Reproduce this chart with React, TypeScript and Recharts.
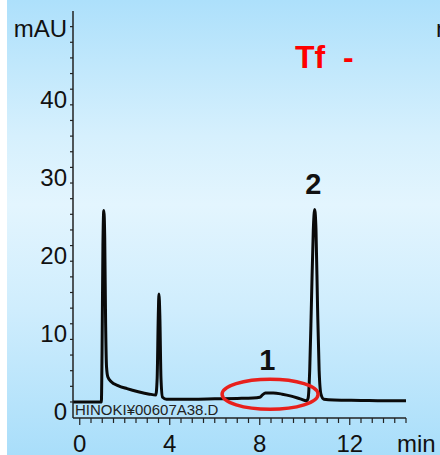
import React from "react";
import { LineChart, Line, XAxis, YAxis, ReferenceDot } from "recharts";

// retention time (min) and absorbance (mAU)
const times = [
  -0.3, 0.96, 0.99, 1.03, 1.07, 1.11, 1.15, 1.19, 1.25, 1.4, 1.7, 2.1, 2.6, 3.1, 3.38,
  3.44, 3.49, 3.52, 3.56, 3.61, 3.68, 3.85, 5.0, 6.0, 7.0, 7.7, 8.0, 8.12, 8.25, 8.6,
  9.0, 9.4, 9.8, 10.08, 10.15, 10.22, 10.3, 10.38, 10.44, 10.5, 10.57, 10.64, 10.72,
  10.85, 11.3, 12.5, 13.5, 14.5,
];
const absorbance = [
  0, 0, 6, 20, 24.5, 21, 10, 4.5, 3.2, 2.6, 2.1, 1.7, 1.3, 1.0, 0.9,
  3, 11, 13.8, 11, 3, 0.6, 0.35, 0.35, 0.4, 0.45, 0.5, 0.6, 0.9, 1.15, 1.15,
  1.0, 0.75, 0.4, 0.15, 0.5, 4, 13, 22, 24.6, 22, 12, 4, 1,
  0.35, 0.25, 0.2, 0.15, 0.15,
];

const xTicks = [
  0, 0.5, 1, 1.5, 2, 2.5, 3, 3.5, 4, 4.5, 5, 5.5, 6, 6.5, 7, 7.5, 8, 8.5, 9, 9.5,
  10, 10.5, 11, 11.5, 12, 12.5, 13, 13.5, 14, 14.5,
];
const xLabels = [0, 4, 8, 12];
const yTicks = [0, 2, 4, 6, 8, 10, 12, 14, 16, 18, 20, 22, 24, 26, 28, 30, 32, 34, 36, 38, 40, 42, 44, 46, 48];
const yLabels = [0, 10, 20, 30, 40];

const peakLabels = [
  { name: "1", t: 8.34, v: 4.03 },
  { name: "2", t: 10.38, v: 26.56 },
];

const data = times.map((t, i) => ({ t, v: absorbance[i] }));

const FONT = "'Liberation Sans', Arial, sans-serif";

function XTick(props: any) {
  const { x, y, payload } = props;
  const major = xLabels.includes(payload.value);
  return (
    <g>
      <line x1={x} x2={x} y1={y} y2={y + (major ? 7 : 5)} stroke="#222" strokeWidth={1.2} />
      {major && (
        <text x={x} y={y + 33.5} textAnchor="middle" fontSize={24} fontFamily={FONT} fill="#111">
          {payload.value}
        </text>
      )}
    </g>
  );
}

function YTick(props: any) {
  const { x, y, payload } = props;
  const major = yLabels.includes(payload.value);
  return (
    <g>
      <line x1={x - 3} x2={x} y1={y} y2={y} stroke="#222" strokeWidth={1.2} />
      {major && (
        <text x={x - 6} y={y + 18.5} textAnchor="end" fontSize={24} fontFamily={FONT} fill="#111">
          {payload.value}
        </text>
      )}
    </g>
  );
}

export default function App() {
  return (
    <div style={{ position: "absolute", left: 0, top: 0, width: 440, height: 455, background: "#fff" }}>
      <div
        style={{
          position: "absolute",
          left: 7,
          top: 0,
          width: 433,
          height: 455,
          background: "linear-gradient(to bottom, #ade0fb 0%, #d6f0fd 30%, #e3f5fe 45%, #cfedfd 68%, #a9defa 100%)",
        }}
      />
      <div style={{ position: "absolute", left: 0, top: 0 }}>
        <LineChart width={440} height={455} data={data} margin={{ top: 11, right: 34, bottom: 7, left: 13 }}>
          <XAxis
            dataKey="t"
            type="number"
            domain={[-0.3, 14.5]}
            ticks={xTicks}
            interval={0}
            height={30}
            tickSize={0}
            tickMargin={0}
            tickLine={false}
            tick={<XTick />}
            axisLine={{ stroke: "#222", strokeWidth: 1.5 }}
            allowDataOverflow
          />
          <YAxis
            type="number"
            domain={[-2.05, 50]}
            ticks={yTicks}
            interval={0}
            width={60}
            tickSize={0}
            tickMargin={0}
            tickLine={false}
            tick={<YTick />}
            axisLine={{ stroke: "#222", strokeWidth: 1.5 }}
            allowDataOverflow
          />
          <Line
            dataKey="v"
            type="monotone"
            stroke="#0a0a0a"
            strokeWidth={3}
            dot={false}
            isAnimationActive={false}
          />
          <ReferenceDot
            x={8.46}
            y={0.98}
            ifOverflow="visible"
            shape={(p: any) => (
              <ellipse cx={p.cx} cy={p.cy} rx={48} ry={15} fill="none" stroke="#e8201c" strokeWidth={3.5} />
            )}
          />
          {peakLabels.map((pk) => (
            <ReferenceDot
              key={pk.name}
              x={pk.t}
              y={pk.v}
              ifOverflow="visible"
              shape={(p: any) => (
                <text x={p.cx} y={p.cy} textAnchor="middle" fontSize={29} fontWeight="bold" fontFamily={FONT} fill="#111">
                  {pk.name}
                </text>
              )}
            />
          ))}
          <text x={67} y={37} textAnchor="end" fontSize={24} fontFamily={FONT} fill="#111">
            mAU
          </text>
          <text x={436} y={37} fontSize={24} fontFamily={FONT} fill="#111">
            mAU
          </text>
          <text x={295} y={68} fontSize={32} fontWeight="bold" fontFamily={FONT} fill="#ff0000" style={{ whiteSpace: "pre" }}>
            {"Tf  -"}
          </text>
          <text x={397} y={451.5} fontSize={24} fontFamily={FONT} fill="#111">
            min
          </text>
          <text x={75} y={415} fontSize={15} fontFamily={FONT} fill="#222">
            HINOKI¥00607A38.D
          </text>
        </LineChart>
      </div>
    </div>
  );
}
